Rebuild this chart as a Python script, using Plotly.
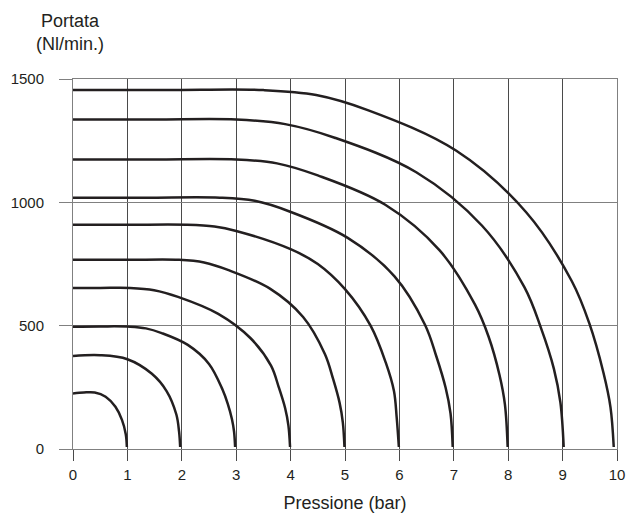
import plotly.graph_objects as go

# X-axis ticks (pressure, bar) and Y-axis ticks (flow, Nl/min)
x_ticks = [0, 1, 2, 3, 4, 5, 6, 7, 8, 9, 10]
y_ticks = [0, 500, 1000, 1500]

# Flow curves: pressure (bar) -> flow (Nl/min)
c1_x = [0, 0.2, 0.4, 0.6, 0.78, 0.9, 0.97, 0.99]
c1_q = [225, 229, 229, 212, 171, 118, 60, 8]

c2_x = [0, 0.5, 1.0, 1.45, 1.72, 1.9, 1.95, 1.97]
c2_q = [377, 380, 364, 305, 235, 140, 70, 8]

c3_x = [0, 0.5, 1.05, 1.34, 1.63, 2.11, 2.5, 2.75, 2.845, 2.922, 2.961, 2.98]
c3_q = [496, 497, 496, 489, 470, 422, 345, 240, 183, 121, 70, 8]

c4_x = [0, 0.5, 1.05, 1.49, 1.93, 2.67, 3.26, 3.64, 3.78, 3.9, 3.96, 3.99]
c4_q = [653, 653, 653, 644, 617, 548, 450, 338, 252, 165, 95, 8]

c5_x = [0, 1.0, 1.95, 2.41, 2.86, 3.62, 4.23, 4.63, 4.78, 4.9, 4.96, 4.99]
c5_q = [767, 767, 767, 756, 725, 650, 535, 385, 285, 188, 108, 8]

c6_x = [0, 1.0, 2.1, 2.6, 3.0, 4.0, 4.5, 5.0, 5.47, 5.75, 5.9, 5.95, 5.99]
c6_q = [909, 909, 909, 902, 884, 810, 750, 648, 500, 350, 235, 128, 8]

c7_x = [0, 1.35, 2.7, 3.34, 3.98, 5.05, 5.91, 6.47, 6.68, 6.85, 6.94, 6.98]
c7_q = [1019, 1019, 1019, 1006, 963, 856, 700, 504, 375, 248, 144, 8]

c8_x = [0, 1.5, 3.0, 3.75, 4.5, 5.74, 6.74, 7.39, 7.64, 7.84, 7.94, 7.99]
c8_q = [1174, 1174, 1174, 1158, 1109, 990, 805, 585, 455, 300, 180, 8]

c9_x = [0, 1.5, 3.0, 3.9, 4.81, 6.31, 7.52, 8.3, 8.6, 8.84, 8.96, 9.02]
c9_q = [1336, 1336, 1336, 1317, 1262, 1122, 905, 655, 492, 325, 188, 8]

c10_x = [0, 1.75, 3.5, 4.47, 5.43, 7.04, 8.33, 9.17, 9.49, 9.75, 9.88, 9.94]
c10_q = [1455, 1455, 1455, 1435, 1373, 1210, 960, 680, 510, 310, 170, 8]

curves = [(c1_x, c1_q), (c2_x, c2_q), (c3_x, c3_q), (c4_x, c4_q), (c5_x, c5_q),
          (c6_x, c6_q), (c7_x, c7_q), (c8_x, c8_q), (c9_x, c9_q), (c10_x, c10_q)]

FONT = "Liberation Sans, Arial, Helvetica, sans-serif"
TXT = "#231f20"

fig = go.Figure()
for cx, cq in curves:
    fig.add_trace(go.Scatter(
        x=cx, y=cq, mode="lines",
        line=dict(color="#231f20", width=2.5, shape="spline", smoothing=1.0),
        hoverinfo="skip", showlegend=False,
    ))

fig.update_layout(
    width=627, height=513,
    margin=dict(l=73, r=10, t=79, b=64, autoexpand=False),
    paper_bgcolor="white", plot_bgcolor="white",
    font=dict(family=FONT, color=TXT, size=15),
    showlegend=False,
    annotations=[dict(
        text="Portata<br>(Nl/min.)", xref="paper", yref="paper",
        x=-0.005, y=1.127, xanchor="center", yanchor="middle",
        showarrow=False, font=dict(family=FONT, size=18, color=TXT),
    )],
)

fig.update_xaxes(
    range=[0, 10], tickmode="array", tickvals=x_ticks,
    ticktext=[str(v) for v in x_ticks], automargin=False,
    showgrid=True, gridcolor="#4a4a4a", gridwidth=1,
    showline=True, linecolor="#808080", linewidth=1, mirror=True,
    ticks="outside", ticklen=11, tickcolor="#4a4a4a", tickwidth=1,
    ticklabelstandoff=1,
    zeroline=False,
    tickfont=dict(family=FONT, size=15, color=TXT),
    title=dict(text="Pressione (bar)", font=dict(family=FONT, size=18, color=TXT), standoff=16),
)
fig.update_yaxes(
    range=[0, 1500], tickmode="array", tickvals=y_ticks,
    ticktext=[str(v) for v in y_ticks], automargin=False,
    showgrid=True, gridcolor="#808080", gridwidth=1,
    showline=True, linecolor="#808080", linewidth=1, mirror=True,
    ticks="outside", ticklen=13, tickcolor="#808080", tickwidth=1,
    ticklabelstandoff=12,
    zeroline=False,
    tickfont=dict(family=FONT, size=15, color=TXT),
)

fig.write_html(
    "out.html",
    config={"displayModeBar": False},
    post_script="document.body.style.margin='0';document.body.style.padding='0';",
)
